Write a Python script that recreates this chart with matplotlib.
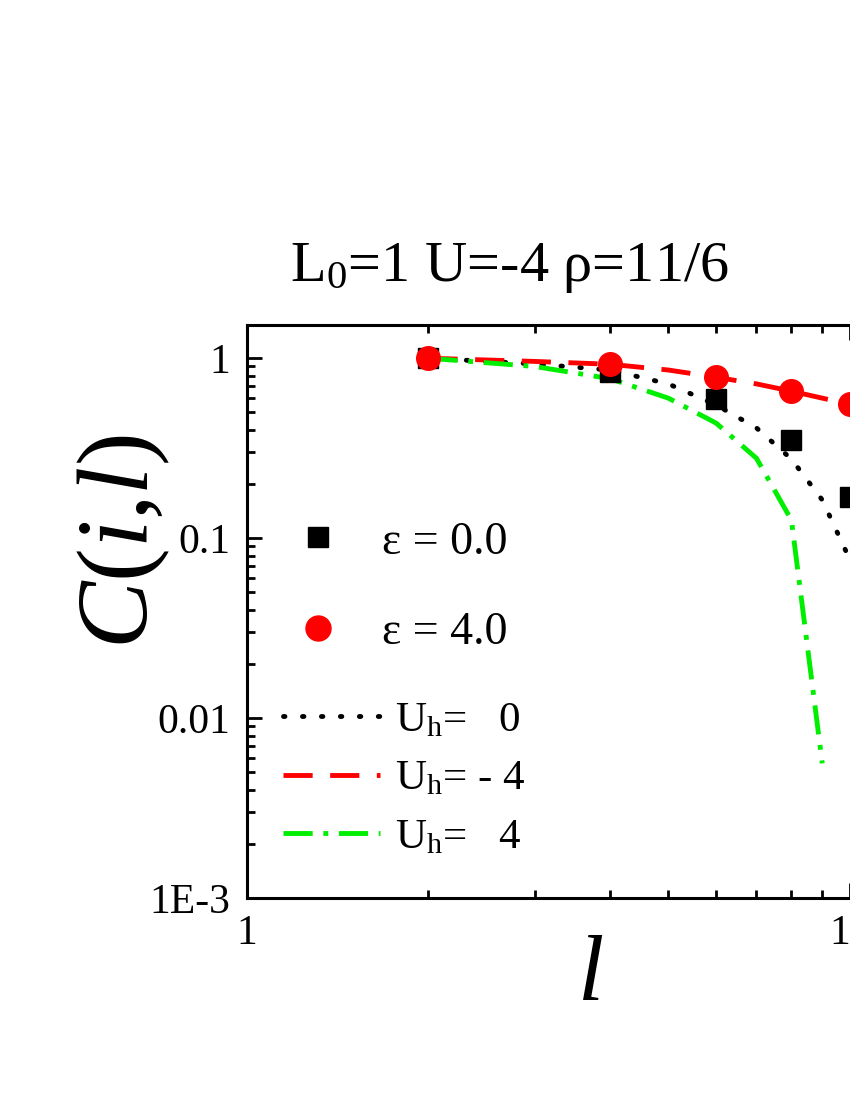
import matplotlib
matplotlib.use("Agg")
import matplotlib.pyplot as plt
from matplotlib.lines import Line2D
from matplotlib.ticker import FixedLocator, FixedFormatter, LogLocator, NullFormatter

plt.rcParams['font.family'] = ['Liberation Serif', 'DejaVu Serif']
plt.rcParams['mathtext.fontset'] = 'custom'
plt.rcParams['mathtext.rm'] = 'Liberation Serif'
plt.rcParams['mathtext.it'] = 'Liberation Serif:italic'

# symbols: eps = 0.0 (squares) and eps = 4.0 (circles)
l_pts = [2, 4, 6, 8, 10]
c_eps0 = [1.0, 0.836, 0.592, 0.35, 0.169]
c_eps4 = [1.0, 0.926, 0.784, 0.656, 0.555]

# lines for Uh = 0, -4, 4
l_line = [2, 3, 4, 5, 6, 7, 8, 9, 10]
c_uh0 = [1.0, 0.93, 0.86, 0.72, 0.55, 0.41, 0.275, 0.163, 0.076]
c_uhm4 = [1.0, 0.96, 0.926, 0.86, 0.784, 0.72, 0.656, 0.60, 0.555]
l_uh4 = [2, 3, 4, 5, 6, 7, 8, 9]
c_uh4 = [1.0, 0.90, 0.77, 0.60, 0.436, 0.278, 0.126, 0.0056]

fig = plt.figure(figsize=(8.5, 11), dpi=100)
# axes run past the right edge of the page, like the cropped original
ax = fig.add_axes([247/850, 202/1100, 709/850, 573/1100])

dot = (0, (0.3, 3.6))
dash = (0, (6, 3.6))
dashdot = (0, (6, 2.2, 1.0, 2.2))

ax.plot(l_line, c_uh0, color='black', lw=3.5, linestyle=dot, dash_capstyle='round')
ax.plot(l_line, c_uhm4, color='red', lw=3.5, linestyle=dash)
ax.plot(l_uh4, c_uh4, color='#00ee00', lw=3.5, linestyle=dashdot)
ax.plot(l_pts, c_eps0, 's', color='black', ms=14, ls='none')
ax.plot(l_pts, c_eps4, 'o', color='red', ms=17, ls='none')

ax.set_xscale('log')
ax.set_yscale('log')
ax.set_xlim(1, 15)
ax.set_ylim(1e-3, 1.53)

ax.xaxis.set_major_locator(FixedLocator([1, 10]))
ax.xaxis.set_major_formatter(FixedFormatter(['1', '10']))
ax.xaxis.set_minor_locator(LogLocator(base=10, subs=range(2, 10)))
ax.xaxis.set_minor_formatter(NullFormatter())
ax.yaxis.set_major_locator(FixedLocator([1e-3, 1e-2, 1e-1, 1]))
ax.yaxis.set_major_formatter(FixedFormatter(['1E-3', '0.01', '0.1', '1']))
ax.yaxis.set_minor_locator(LogLocator(base=10, subs=range(2, 10)))
ax.yaxis.set_minor_formatter(NullFormatter())

ax.tick_params(which='both', direction='in', top=True, right=True, width=2)
ax.tick_params(which='major', length=11, labelsize=30, pad=12)
ax.tick_params(which='minor', length=6)
for s in ax.spines.values():
    s.set_linewidth(2.2)

ax.set_xlabel('$l$', fontsize=68)
ax.xaxis.set_label_coords((590-247)/709, -0.065)
ax.set_ylabel('$C(i{,}l)$', fontsize=73)
ax.yaxis.set_label_coords(-(247-172)/709, (898-542)/573)

fig.text(509/850, 1-268/1100, r'L$_0$=1 U=-4 ρ=11/6', fontsize=42, ha='center', va='center')

sym_handles = [Line2D([], [], marker='s', color='black', ls='none', ms=15),
               Line2D([], [], marker='o', color='red', ls='none', ms=18)]
leg1 = ax.legend(sym_handles, ['ε = 0.0', 'ε = 4.0'], loc='upper left',
                 bbox_to_anchor=(293/850, 1-521/1100), bbox_transform=fig.transFigure,
                 frameon=False, fontsize=33, handlelength=1.1, handletextpad=0.85,
                 labelspacing=1.05, borderpad=0, borderaxespad=0)
ax.add_artist(leg1)

line_handles = [Line2D([], [], color='black', lw=3.5, linestyle=dot, dash_capstyle='round'),
                Line2D([], [], color='red', lw=3.5, linestyle=dash),
                Line2D([], [], color='#00ee00', lw=3.5, linestyle=dashdot)]
line_labels = [r'U$_\mathrm{h}$=   0', r'U$_\mathrm{h}$= - 4', r'U$_\mathrm{h}$=   4']
leg2 = ax.legend(line_handles, line_labels, loc='upper left',
                 bbox_to_anchor=(283/850, 1-701/1100), bbox_transform=fig.transFigure,
                 frameon=False, fontsize=31, handlelength=2.25, handletextpad=0.35,
                 labelspacing=0.45, borderpad=0, borderaxespad=0)

fig.savefig('out.png', dpi=100)
